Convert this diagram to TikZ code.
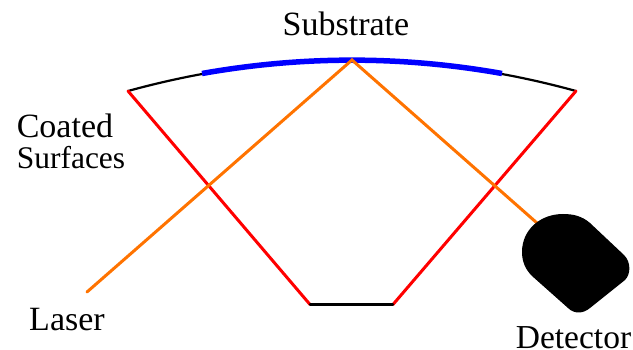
\documentclass[tikz,border=0pt]{standalone}
\usepackage{fontspec}
\setmainfont{Liberation Serif}
\definecolor{beamorange}{RGB}{255,115,0}
\begin{document}
\begin{tikzpicture}[x=1pt,y=-1pt,line cap=round]
  \useasboundingbox (0,0) rectangle (633,350);
  \tikzset{caption/.style={font=\fontsize{34}{31}\selectfont,align=left,inner sep=0pt},
    mirror/.style={red,line width=3pt},
    beam/.style={beamorange,line width=3pt},
    rim/.style={black,line width=2.2pt}}
  % the corners of the cell
  \coordinate (topleft) at (128,91);
  \coordinate (topright) at (576,91);
  \coordinate (botleft) at (310,304.5);
  \coordinate (botright) at (393,304.5);
  \coordinate (apex) at (352,60);
  \coordinate (source) at (87,292);
  \coordinate (sink) at (537,223);
  \draw[rim] (topleft) .. controls (277,50) and (427,50) .. (topright);
  \draw[blue,line width=5.5pt,line cap=butt] (202,73.5) .. controls (302,55.7) and (402,55.7) .. (502,73.5);
  \draw[mirror] (topleft) -- (botleft);
  \draw[mirror] (botright) -- (topright);
  \draw[rim] (botleft) -- (botright);
  \draw[beam] (source) -- (apex) -- (sink);
  % the detector
  \fill[black] (590,223) -- (624,255) .. controls (631,262) and (631,274) .. (625,280)
    -- (590,308) .. controls (583,314) and (574,314) .. (568,308)
    -- (532,276) .. controls (525,269) and (522,261) .. (522,252)
    .. controls (522,230) and (540,214) .. (563,214)
    .. controls (573,214) and (582,216) .. (590,223) -- cycle;
  \node[caption] (substrate) at (346,24) {Substrate};
  \node[caption] (coated) at (71,141.5) {Coated\\{\fontsize{31.5}{31}\selectfont Surfaces}};
  \node[caption] (laser) at (67,320) {Laser};
  \node[caption,font=\fontsize{33.5}{31}\selectfont] (detector) at (573.5,337.5) {Detector};
\end{tikzpicture}
\end{document}
